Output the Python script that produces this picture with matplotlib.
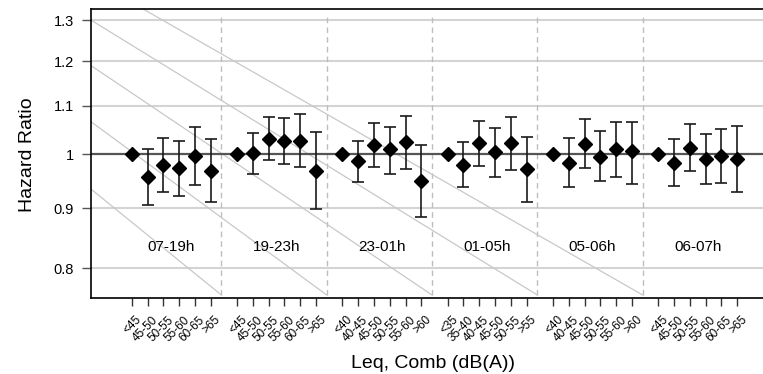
import numpy as np
import matplotlib.pyplot as plt
import matplotlib.transforms as mtransforms
from matplotlib.ticker import FixedLocator, NullLocator

plt.rcParams['font.family'] = ['Liberation Sans', 'DejaVu Sans']

# time periods and noise level classes (first class = reference)
periods = ['07-19h', '19-23h', '23-01h', '01-05h', '05-06h', '06-07h']
levels = [
    ['<45', '45-50', '50-55', '55-60', '60-65', '>65'],
    ['<45', '45-50', '50-55', '55-60', '60-65', '>65'],
    ['<40', '40-45', '45-50', '50-55', '55-60', '>60'],
    ['<35', '35-40', '40-45', '45-50', '50-55', '>55'],
    ['<40', '40-45', '45-50', '50-55', '55-60', '>60'],
    ['<45', '45-50', '50-55', '55-60', '60-65', '>65'],
]

# hazard ratios with 95% CI (reference class has no CI)
hr = [
    [1, 0.956, 0.979, 0.973, 0.997, 0.968],
    [1, 1.003, 1.030, 1.026, 1.027, 0.968],
    [1, 0.986, 1.018, 1.010, 1.024, 0.949],
    [1, 0.979, 1.023, 1.005, 1.023, 0.972],
    [1, 0.984, 1.020, 0.995, 1.010, 1.007],
    [1, 0.984, 1.012, 0.991, 0.997, 0.991],
]
lower = [
    [np.nan, 0.905, 0.929, 0.921, 0.942, 0.910],
    [np.nan, 0.962, 0.988, 0.981, 0.975, 0.898],
    [np.nan, 0.947, 0.976, 0.963, 0.971, 0.884],
    [np.nan, 0.937, 0.978, 0.957, 0.970, 0.911],
    [np.nan, 0.938, 0.973, 0.949, 0.956, 0.943],
    [np.nan, 0.940, 0.967, 0.943, 0.945, 0.929],
]
upper = [
    [np.nan, 1.010, 1.032, 1.026, 1.054, 1.030],
    [np.nan, 1.043, 1.076, 1.073, 1.082, 1.045],
    [np.nan, 1.026, 1.063, 1.054, 1.078, 1.018],
    [np.nan, 1.025, 1.068, 1.053, 1.076, 1.035],
    [np.nan, 1.032, 1.071, 1.047, 1.065, 1.066],
    [np.nan, 1.031, 1.061, 1.040, 1.051, 1.056],
]

y_ticks = [0.8, 0.9, 1, 1.1, 1.2, 1.3]
y_tick_labels = ['0.8', '0.9', '1', '1.1', '1.2', '1.3']

# background diagonal lines, each runs down to the foot of a period separator
diag_start_x = [-2.58, -2.58, -2.58, -2.58, 0.72]
diag_start_y = [0.934, 1.066, 1.19, 1.301, 1.3296]

group_step = 6.67
y_low, y_high = 0.7544, 1.3296
sep_low, sep_high = 0.759, 1.3145

fig = plt.figure(figsize=(7.63, 3.74), dpi=100)
ax = fig.add_axes([91 / 763, 76 / 374, 672 / 763, 289 / 374])
ax.set_yscale('log')
ax.set_xlim(-2.58, 39.98)
ax.set_ylim(y_low, y_high)

# grid lines
for yt in y_ticks:
    if yt != 1:
        ax.axhline(yt, color='#d4d4d4', lw=1.5, zorder=1)
ax.axhline(1, color='#555555', lw=1.6, zorder=2)

seps = [g * group_step + 5.67 for g in range(len(periods) - 1)]
ax.vlines(seps, sep_low, sep_high, colors='#bdbdbd', linestyles=(0, (4, 3)), lw=1, zorder=1)

for sx, sy, sep in zip(diag_start_x, diag_start_y, seps):
    ax.plot([sx, sep], [sy, sep_low], color='#c8c8c8', lw=0.9, zorder=1)

all_x = []
all_labels = []
for g, name in enumerate(periods):
    x = np.arange(6) + g * group_step
    h = np.array(hr[g])
    lo = np.array(lower[g])
    hi = np.array(upper[g])
    m = ~np.isnan(lo)
    ax.errorbar(x[m], h[m], yerr=[h[m] - lo[m], hi[m] - h[m]], fmt='none',
                ecolor='#1a1a1a', elinewidth=1.2, capsize=4.5, capthick=1.2, zorder=3)
    ax.plot(x, h, 'D', color='black', ms=7.2, zorder=4)
    ax.text(x.mean(), 0.834, name, ha='center', va='center', fontsize=11)
    all_x.extend(x)
    all_labels.extend(levels[g])

ax.set_xticks(all_x)
ax.set_xticklabels(all_labels, rotation=45, ha='right', va='top',
                   rotation_mode='anchor', fontsize=8.5)
ax.tick_params(axis='x', length=6, width=1, color='#333333', pad=4)
shift = mtransforms.ScaledTranslation(4 / 100, -2 / 100, fig.dpi_scale_trans)
for lab in ax.get_xticklabels():
    lab.set_transform(lab.get_transform() + shift)

ax.yaxis.set_major_locator(FixedLocator(y_ticks))
ax.yaxis.set_minor_locator(NullLocator())
ax.set_yticklabels(y_tick_labels, fontsize=10.5)
ax.tick_params(axis='y', length=6.5, width=1, color='#555555', pad=6)

ax.spines['right'].set_visible(False)
for s in ['left', 'bottom', 'top']:
    ax.spines[s].set_linewidth(1.2)

ax.set_xlabel('Leq, Comb (dB(A))', fontsize=14)
ax.xaxis.set_label_coords(0.509, -0.228)
ax.xaxis.label.set_va('center')
ax.set_ylabel('Hazard Ratio', fontsize=14)
ax.yaxis.set_label_coords(-0.0945, 0.495)
ax.yaxis.label.set_va('center')

plt.savefig('out.png', dpi=100)
